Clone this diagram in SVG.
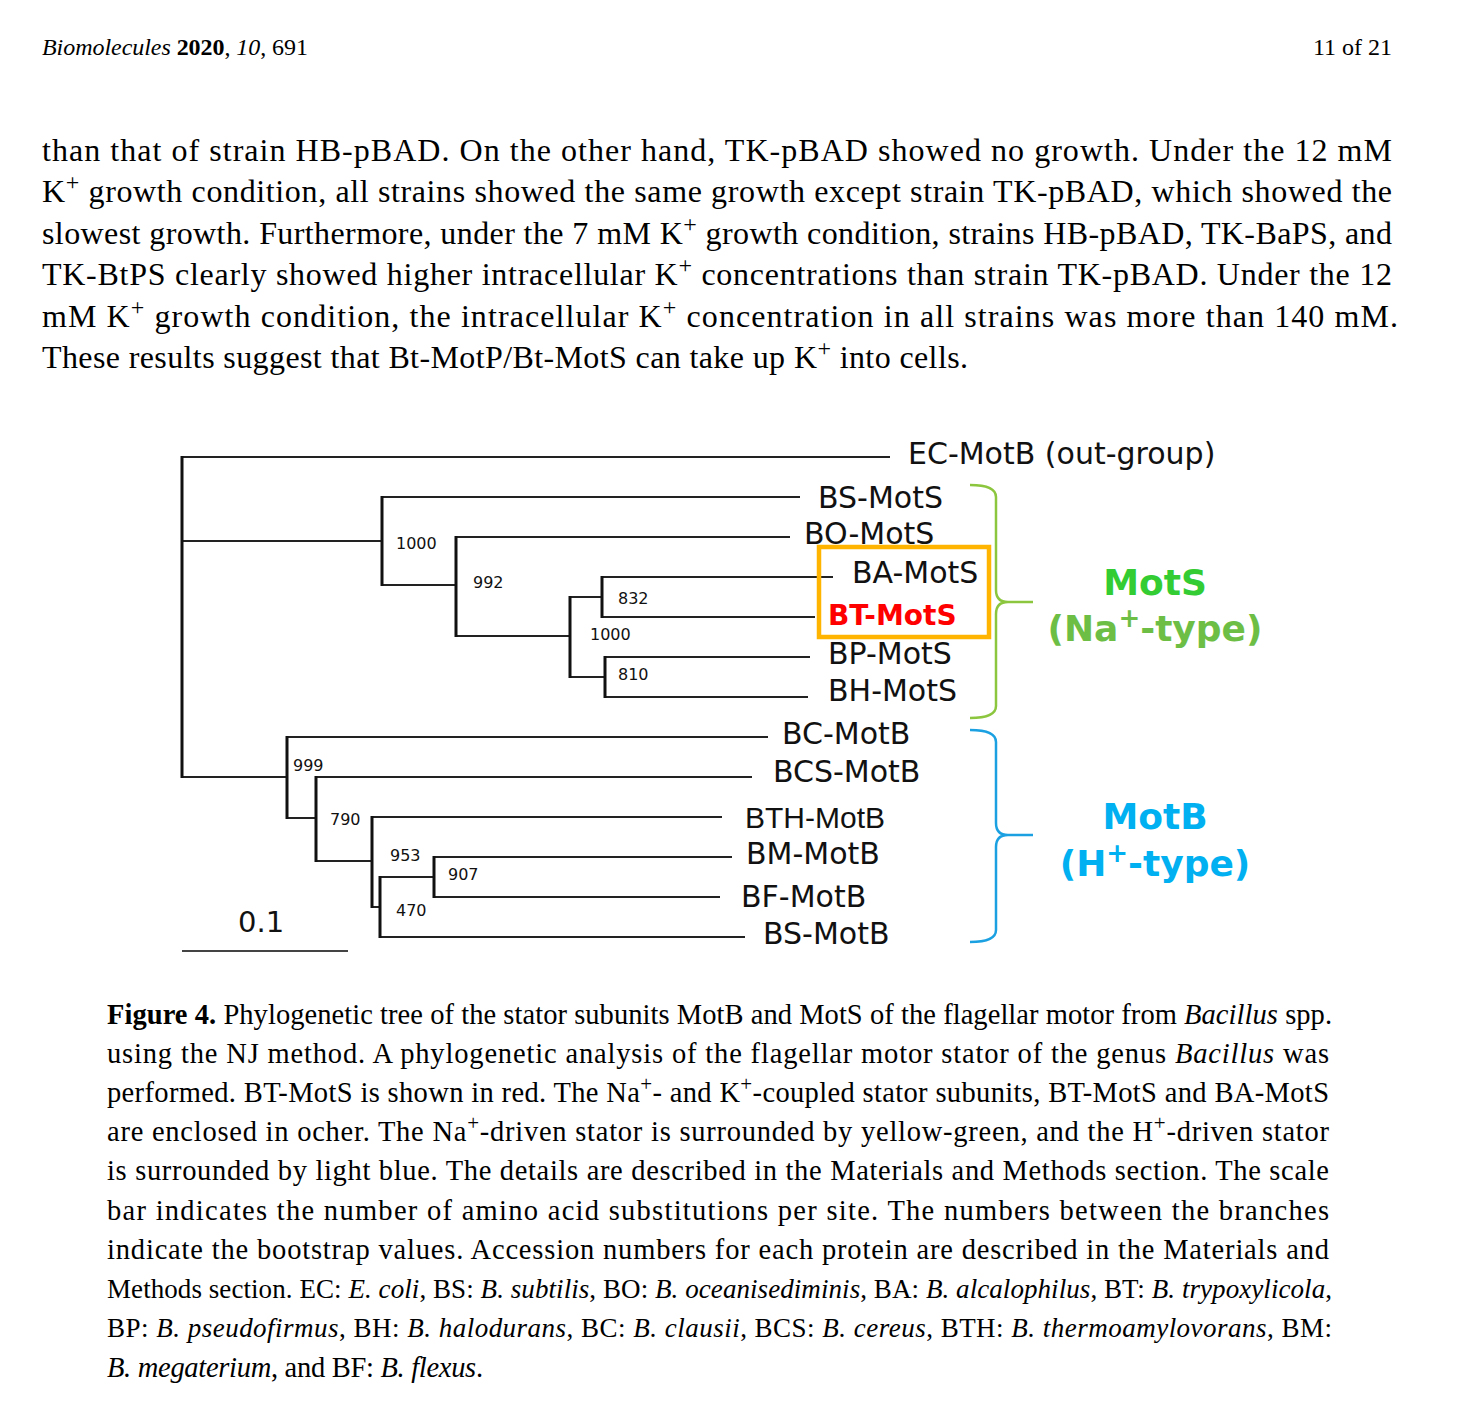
<svg xmlns="http://www.w3.org/2000/svg" width="1470" height="1412" viewBox="0 0 1470 1412">
<style>
.pg{font-family:"Liberation Serif","Times New Roman",serif;fill:#000}
.hd{font-size:24px}
.bd{font-size:32px}
.cp{font-size:28.5px}
.cs{font-size:27px}
.it{font-style:italic}
.b{font-weight:bold}
.lf{font-family:"DejaVu Sans",Verdana,sans-serif;font-size:30px;fill:#111}
.bs{font-family:"DejaVu Sans",Verdana,sans-serif;font-size:16px;fill:#111}
.grp{font-family:"DejaVu Sans",Verdana,sans-serif;font-size:36px;font-weight:bold;text-anchor:middle}
.h{fill:none;stroke:#222;stroke-width:2}
.v{fill:none;stroke:#111;stroke-width:3}
</style>
<rect width="1470" height="1412" fill="#fff"/>

<!-- header -->
<text class="pg hd" x="42" y="55" textLength="266" lengthAdjust="spacing"><tspan class="it">Biomolecules</tspan> <tspan class="b">2020</tspan>, <tspan class="it">10</tspan>, 691</text>
<text class="pg hd" x="1392" y="55" text-anchor="end">11 of 21</text>

<!-- body text -->
<g class="pg bd">
<text x="42" y="161" textLength="1350" lengthAdjust="spacing">than that of strain HB-pBAD. On the other hand, TK-pBAD showed no growth. Under the 12 mM</text>
<text x="42" y="202" textLength="1350" lengthAdjust="spacing">K<tspan font-size="24" dy="-12">+</tspan><tspan dy="12"> growth condition, all strains showed the same growth except strain TK-pBAD, which showed the</tspan></text>
<text x="42" y="244" textLength="1350" lengthAdjust="spacing">slowest growth. Furthermore, under the 7 mM K<tspan font-size="24" dy="-12">+</tspan><tspan dy="12"> growth condition, strains HB-pBAD, TK-BaPS, and</tspan></text>
<text x="42" y="285" textLength="1350" lengthAdjust="spacing">TK-BtPS clearly showed higher intracellular K<tspan font-size="24" dy="-12">+</tspan><tspan dy="12"> concentrations than strain TK-pBAD. Under the 12</tspan></text>
<text x="42" y="327" textLength="1356" lengthAdjust="spacing">mM K<tspan font-size="24" dy="-12">+</tspan><tspan dy="12"> growth condition, the intracellular K</tspan><tspan font-size="24" dy="-12">+</tspan><tspan dy="12"> concentration in all strains was more than 140 mM.</tspan></text>
<text x="42" y="368" textLength="926" lengthAdjust="spacing">These results suggest that Bt-MotP/Bt-MotS can take up K<tspan font-size="24" dy="-12">+</tspan><tspan dy="12"> into cells.</tspan></text>
</g>

<!-- connectors (tree branches) -->
<g id="connectors">
<path class="h" d="M182,457H890 M182,541H382 M382,497H800 M382,585H456 M456,537H790 M456,636H570 M570,597H602 M602,577H833 M602,617H815 M570,677H605 M605,657H810 M605,697H808 M182,777H287 M287,737H768 M287,818H316 M316,777H752 M316,861H372 M372,817H722 M372,907H380 M380,877H434 M434,857H732 M434,897H720 M380,937H745"/>
<path class="v" d="M182,456V778 M382,496V586 M456,536V637 M570,596V678 M602,576V618 M605,656V698 M287,736V819 M316,776V862 M372,816V908 M380,876V938 M434,856V898"/>
<path fill="none" stroke="#444" stroke-width="2" d="M182,951H348"/>
</g>

<!-- leaf nodes -->
<g id="EC-MotB"><text class="lf" x="908" y="464">EC-MotB (out-group)</text></g>
<g id="BS-MotS"><text class="lf" x="818" y="508">BS-MotS</text></g>
<g id="BO-MotS"><text class="lf" x="804" y="544">BO-MotS</text></g>
<g id="BA-MotS"><text class="lf" x="852" y="583">BA-MotS</text></g>
<g id="BT-MotS"><text class="lf" x="828" y="625" font-weight="bold" style="fill:#FF0000;font-size:28px">BT-MotS</text></g>
<g id="BP-MotS"><text class="lf" x="828" y="664">BP-MotS</text></g>
<g id="BH-MotS"><text class="lf" x="828" y="701">BH-MotS</text></g>
<g id="BC-MotB"><text class="lf" x="782" y="744">BC-MotB</text></g>
<g id="BCS-MotB"><text class="lf" x="773" y="782">BCS-MotB</text></g>
<g id="BTH-MotB"><text class="lf" x="745" y="828" style="font-family:'Liberation Sans',Arial,sans-serif">BTH-MotB</text></g>
<g id="BM-MotB"><text class="lf" x="746" y="864">BM-MotB</text></g>
<g id="BF-MotB"><text class="lf" x="741" y="907">BF-MotB</text></g>
<g id="BS-MotB"><text class="lf" x="763" y="944">BS-MotB</text></g>

<!-- internal nodes (bootstrap values) -->
<g id="n1000a"><text class="bs" x="396" y="549">1000</text></g>
<g id="n992"><text class="bs" x="473" y="588">992</text></g>
<g id="n832"><text class="bs" x="618" y="604">832</text></g>
<g id="n1000b"><text class="bs" x="590" y="640">1000</text></g>
<g id="n810"><text class="bs" x="618" y="680">810</text></g>
<g id="n999"><text class="bs" x="293" y="771">999</text></g>
<g id="n790"><text class="bs" x="330" y="825">790</text></g>
<g id="n953"><text class="bs" x="390" y="861">953</text></g>
<g id="n907"><text class="bs" x="448" y="880">907</text></g>
<g id="n470"><text class="bs" x="396" y="916">470</text></g>

<!-- scale -->
<g id="scale"><text x="238" y="932" font-family="DejaVu Sans, Verdana, sans-serif" font-size="29" fill="#111">0.1</text></g>

<!-- ocher box -->
<g id="ocher-box"><rect x="819" y="547" width="170" height="90" fill="none" stroke="#FFB400" stroke-width="4.5"/></g>

<!-- MotS group -->
<g id="MotS-group">
<path fill="none" stroke="#8CC63F" stroke-width="2.5" d="M970,485Q996,485 996,497V590Q996,602 1008,602H1033M1008,602Q996,602 996,614V706Q996,718 970,718"/>
<text class="grp" x="1155" y="595" fill="#33CC33">MotS</text>
<text class="grp" x="1155" y="641" fill="#6DBE45">(Na<tspan font-size="26" dy="-14">+</tspan><tspan dy="14">-type)</tspan></text>
</g>

<!-- MotB group -->
<g id="MotB-group">
<path fill="none" stroke="#1BA1E2" stroke-width="2.5" d="M970,730Q996,730 996,742V823Q996,835 1008,835H1033M1008,835Q996,835 996,847V930Q996,942 970,942"/>
<text class="grp" x="1155" y="829" fill="#00B0F0">MotB</text>
<text class="grp" x="1155" y="876" fill="#00B0F0">(H<tspan font-size="26" dy="-14">+</tspan><tspan dy="14">-type)</tspan></text>
</g>

<!-- caption -->
<g class="pg cp">
<text x="107" y="1024" textLength="1225" lengthAdjust="spacing"><tspan class="b">Figure 4.</tspan> Phylogenetic tree of the stator subunits MotB and MotS of the flagellar motor from <tspan class="it">Bacillus</tspan> spp.</text>
<text x="107" y="1063" textLength="1222" lengthAdjust="spacing">using the NJ method. A phylogenetic analysis of the flagellar motor stator of the genus <tspan class="it">Bacillus</tspan> was</text>
<text x="107" y="1102" textLength="1222" lengthAdjust="spacing">performed. BT-MotS is shown in red. The Na<tspan font-size="21" dy="-11">+</tspan><tspan dy="11">- and K</tspan><tspan font-size="21" dy="-11">+</tspan><tspan dy="11">-coupled stator subunits, BT-MotS and BA-MotS</tspan></text>
<text x="107" y="1141" textLength="1222" lengthAdjust="spacing">are enclosed in ocher. The Na<tspan font-size="21" dy="-11">+</tspan><tspan dy="11">-driven stator is surrounded by yellow-green, and the H</tspan><tspan font-size="21" dy="-11">+</tspan><tspan dy="11">-driven stator</tspan></text>
<text x="107" y="1180" textLength="1222" lengthAdjust="spacing">is surrounded by light blue. The details are described in the Materials and Methods section. The scale</text>
<text x="107" y="1220" textLength="1222" lengthAdjust="spacing">bar indicates the number of amino acid substitutions per site. The numbers between the branches</text>
<text x="107" y="1259" textLength="1222" lengthAdjust="spacing">indicate the bootstrap values. Accession numbers for each protein are described in the Materials and</text>
<text class="cs" x="107" y="1298" textLength="1225" lengthAdjust="spacing">Methods section. EC: <tspan class="it">E. coli</tspan>, BS: <tspan class="it">B. subtilis</tspan>, BO: <tspan class="it">B. oceanisediminis</tspan>, BA: <tspan class="it">B. alcalophilus</tspan>, BT: <tspan class="it">B. trypoxylicola</tspan>,</text>
<text class="cs" x="107" y="1337" textLength="1225" lengthAdjust="spacing">BP: <tspan class="it">B. pseudofirmus</tspan>, BH: <tspan class="it">B. halodurans</tspan>, BC: <tspan class="it">B. clausii</tspan>, BCS: <tspan class="it">B. cereus</tspan>, BTH: <tspan class="it">B. thermoamylovorans</tspan>, BM:</text>
<text x="107" y="1377" textLength="376" lengthAdjust="spacing"><tspan class="it">B. megaterium</tspan>, and BF: <tspan class="it">B. flexus</tspan>.</text>
</g>
</svg>
